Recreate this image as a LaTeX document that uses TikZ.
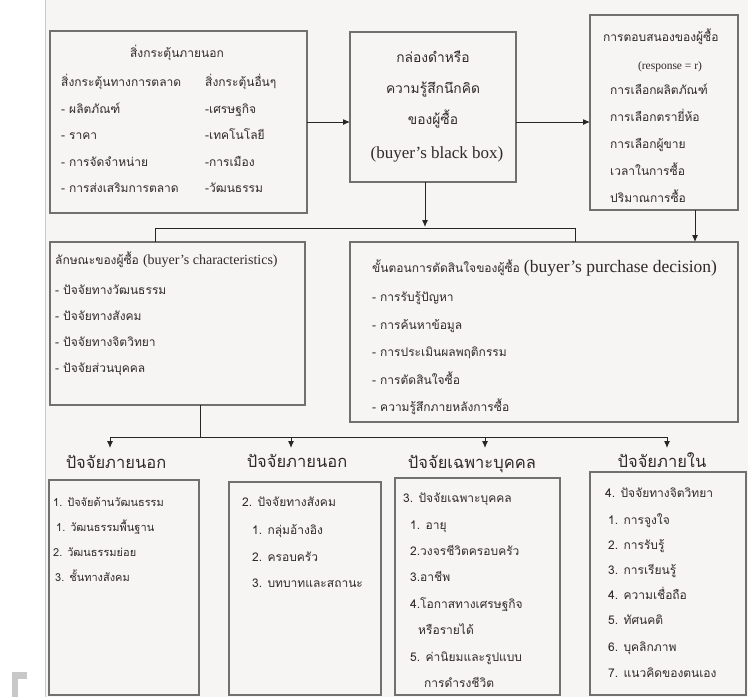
\documentclass[tikz,border=0pt]{standalone}
\usepackage{fontspec}
\setmainfont{Liberation Serif}
\newfontfamily\thai[Script=Thai]{Loma}
\newfontfamily\en{Liberation Serif}
\usetikzlibrary{arrows.meta}
\definecolor{bgc}{RGB}{246,245,244}
\definecolor{boxc}{RGB}{112,112,112}
\definecolor{txtc}{RGB}{48,42,42}
\definecolor{edgec}{RGB}{200,200,200}
\begin{document}
\begin{tikzpicture}[x=1pt,y=-1pt,
  box/.style={draw=boxc,line width=1.5pt,fill=bgc,anchor=north west,outer sep=0pt,inner sep=0pt},
  itm/.style={anchor=base west,yshift=-4.5pt,inner sep=0pt,text=txtc,font=\thai\fontsize{12}{14}\selectfont},
  itms/.style={itm,font=\thai\fontsize{11}{13}\selectfont},
  itmc/.style={itm,anchor=base},
  bbx/.style={anchor=base,yshift=-5pt,inner sep=0pt,text=txtc,font=\thai\fontsize{13.8}{16}\selectfont},
  head/.style={anchor=base,yshift=-6pt,inner sep=0pt,text=txtc,font=\thai\fontsize{16.5}{19}\selectfont},
  conn/.style={draw=black!85,line width=1pt},
  arr/.style={conn,-{Latex[length=7pt,width=6pt]}}]
\useasboundingbox (0,0) rectangle (748,697);
\fill[white] (0,0) rectangle (748,697);
\fill[bgc] (45,0) rectangle (748,697);
\draw[edgec,line width=1pt] (45,0) -- (45,697);
\fill[edgec] (12,672) rectangle (27,679);
\fill[edgec] (12,672) rectangle (18,697);

% ---------- boxes ----------
\node[box,minimum width=257,minimum height=182] (A) at (50,31) {};
\node[box,minimum width=166,minimum height=150] (B) at (350,32) {};
\node[box,minimum width=148,minimum height=195] (C) at (590,15) {};
\node[box,minimum width=255,minimum height=163] (D) at (50,242) {};
\node[box,minimum width=388,minimum height=180] (E) at (350,242) {};
\node[box,minimum width=150,minimum height=215] (F1) at (49,480) {};
\node[box,minimum width=152,minimum height=213] (F2) at (229,482) {};
\node[box,minimum width=165,minimum height=217] (F3) at (395,478) {};
\node[box,minimum width=156,minimum height=223] (F4) at (590,472) {};

% ---------- box A ----------
\node[itmc] (At) at (177,53) {สิ่งกระตุ้นภายนอก};
\foreach \t [count=\i] in {สิ่งกระตุ้นทางการตลาด,- ผลิตภัณฑ์,- ราคา,- การจัดจำหน่าย,- การส่งเสริมการตลาด}
  \node[itm] (Al\i) at (61,{82+26.5*(\i-1)}) {\t};
\foreach \t [count=\i] in {สิ่งกระตุ้นอื่นๆ,-เศรษฐกิจ,-เทคโนโลยี,-การเมือง,-วัฒนธรรม}
  \node[itm] (Ar\i) at (205,{82+26.5*(\i-1)}) {\t};

% ---------- box B ----------
\node[bbx] (B1) at (433,57) {กล่องดำหรือ};
\node[bbx] (B2) at (433,88) {ความรู้สึกนึกคิด};
\node[bbx] (B3) at (433,119) {ของผู้ซื้อ};
\node[bbx,font=\en\fontsize{17}{19}\selectfont] (B4) at (437,153) {(buyer’s black box)};

% ---------- box C ----------
\node[itm] (Ct) at (603,37) {การตอบสนองของผู้ซื้อ};
\node[itmc,font=\en\fontsize{11.5}{13}\selectfont] (Cr) at (670,65) {(response = r)};
\foreach \t [count=\i] in {การเลือกผลิตภัณฑ์,การเลือกตรายี่ห้อ,การเลือกผู้ขาย,เวลาในการซื้อ,ปริมาณการซื้อ}
  \node[itm] (C\i) at (610,{90+27*(\i-1)}) {\t};

% ---------- box D ----------
\node[itm] (Dt) at (55,260) {ลักษณะของผู้ซื้อ {\en\fontsize{14}{16}\selectfont (buyer’s characteristics)}};
\foreach \t [count=\i] in {- ปัจจัยทางวัฒนธรรม,- ปัจจัยทางสังคม,- ปัจจัยทางจิตวิทยา,- ปัจจัยส่วนบุคคล}
  \node[itm] (D\i) at (55,{290+26*(\i-1)}) {\t};

% ---------- box E ----------
\node[itm] (Et) at (372,268) {ขั้นตอนการตัดสินใจของผู้ซื้อ {\en\fontsize{17.5}{19}\selectfont (buyer’s purchase decision)}};
\foreach \t [count=\i] in {- การรับรู้ปัญหา,- การค้นหาข้อมูล,- การประเมินผลพฤติกรรม,- การตัดสินใจซื้อ,- ความรู้สึกภายหลังการซื้อ}
  \node[itm] (E\i) at (372,{297+27.5*(\i-1)}) {\t};

% ---------- headings ----------
\node[head] (H1) at (116,462) {ปัจจัยภายนอก};
\node[head] (H2) at (297,461) {ปัจจัยภายนอก};
\node[head] (H3) at (472,462) {ปัจจัยเฉพาะบุคคล};
\node[head] (H4) at (662,461) {ปัจจัยภายใน};

% ---------- bottom boxes ----------
\foreach \x/\y/\t [count=\i] in {53/502/1. ปัจจัยด้านวัฒนธรรม,56/527/1. วัฒนธรรมพื้นฐาน,53/552/2. วัฒนธรรมย่อย,55/577/3. ชั้นทางสังคม}
  \node[itms] (Fa\i) at (\x,\y) {\t};
\foreach \x/\y/\t [count=\i] in {242/502/2. ปัจจัยทางสังคม,252/530/1. กลุ่มอ้างอิง,252/557/2. ครอบครัว,252/583/3. บทบาทและสถานะ}
  \node[itm] (Fb\i) at (\x,\y) {\t};
\foreach \x/\y/\t [count=\i] in {403/498/3. ปัจจัยเฉพาะบุคคล,410/525/1. อายุ,410/551/2.วงจรชีวิตครอบครัว,410/577/3.อาชีพ,410/604/4.โอกาสทางเศรษฐกิจ,418/630/หรือรายได้,410/657/5. ค่านิยมและรูปแบบ,424/683/การดำรงชีวิต}
  \node[itm] (Fc\i) at (\x,\y) {\t};
\foreach \x/\y/\t [count=\i] in {605/493/4. ปัจจัยทางจิตวิทยา,608/520/1. การจูงใจ,608/545/2. การรับรู้,608/570/3. การเรียนรู้,608/595/4. ความเชื่อถือ,608/620/5. ทัศนคติ,608/647/6. บุคลิกภาพ,608/673/7. แนวคิดของตนเอง}
  \node[itm] (Fd\i) at (\x,\y) {\t};

% ---------- connectors ----------
\draw[arr] (A.east) -- (A.east -| B.west);
\draw[arr] (A.east -| B.east) -- (A.east -| C.west);
\coordinate (j) at (425,227);
\draw[arr] (j |- B.south) -- (j);
\coordinate (dl) at (155,228);
\coordinate (er) at (575,228);
\draw[conn] (dl |- D.north) -- (dl) -- (er) -- (er |- E.north);
\coordinate (ce) at (695,242);
\draw[arr] (ce |- C.south) -- (ce |- E.north);
\coordinate (bl) at (200,437);
\coordinate (h1) at (110,437);
\coordinate (h2) at (291,437);
\coordinate (h3) at (485,437);
\coordinate (h4) at (667,437);
\draw[conn] (bl |- D.south) -- (bl);
\draw[conn] (h1) -- (h4);
\foreach \k in {1,2,3,4}
  \draw[arr] (h\k) -- ++(0,11);
\end{tikzpicture}
\end{document}
